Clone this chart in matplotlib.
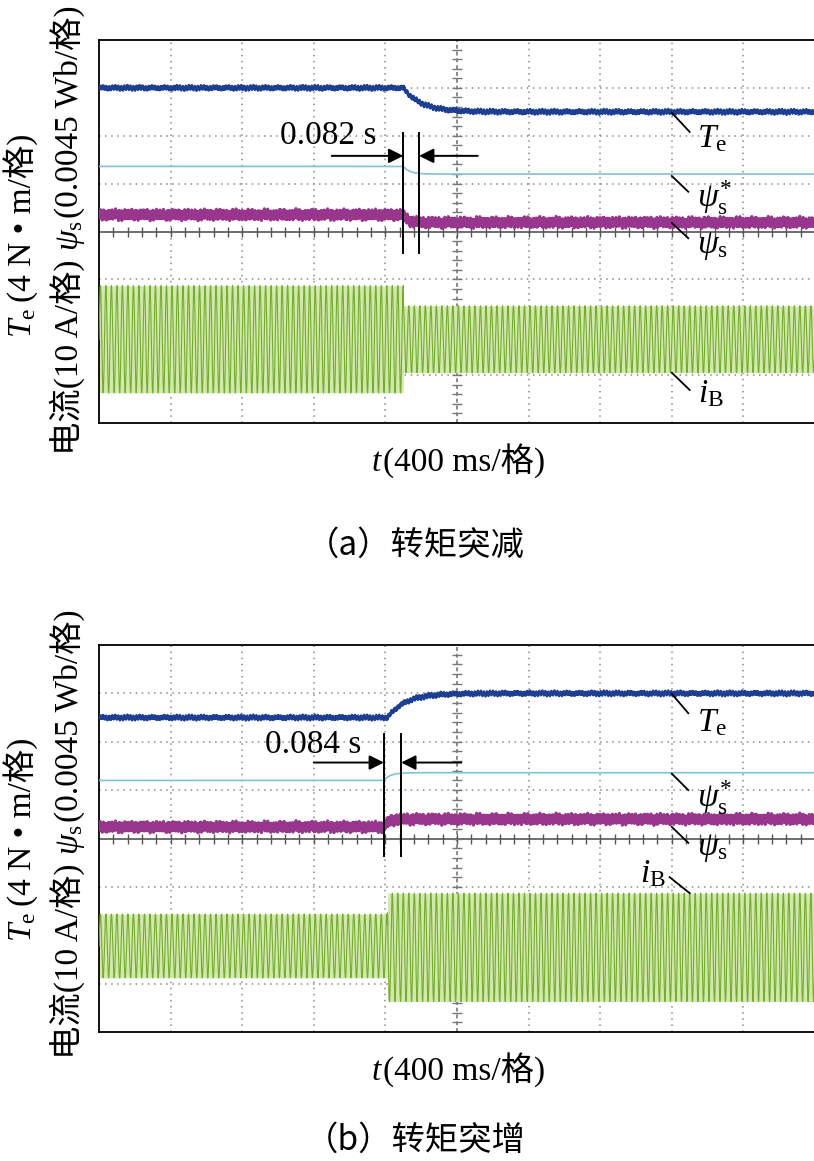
import numpy as np
import matplotlib
matplotlib.use('Agg')
import matplotlib.pyplot as plt

plt.rcParams['mathtext.fontset'] = 'custom'
plt.rcParams['mathtext.rm'] = 'Liberation Serif'
plt.rcParams['mathtext.it'] = 'Liberation Serif:italic'
plt.rcParams['mathtext.bf'] = 'Liberation Serif:bold'
plt.rcParams['font.family'] = ['Liberation Serif', 'Noto Sans CJK SC']
SERIF = ['Liberation Serif', 'Noto Sans CJK SC']

W, H = 814, 1161
FS = 24

# ---------------- data read from the two oscilloscope screens ----------------
# x in divisions (0..10, 400 ms/div), y in divisions (0..8)
# panel (a): torque step down
a_t_step = [4.25, 4.25, 4.25, 4.25]          # Te, psi*, psi, iB change instants
a_Te = [7.00, 6.50]
a_psi_ref = [5.36, 5.20]
a_psi = [4.35, 4.19]
a_iB_amp = [1.12, 0.70]
a_iB_mid = [1.75, 1.75]
a_cursor = [4.25, 4.47]
a_delay = '0.082 s'
# panel (b): torque step up
b_t_step = [4.03, 3.98, 3.98, 4.03]
b_Te = [6.50, 7.00]
b_psi_ref = [5.20, 5.36]
b_psi = [4.24, 4.40]
b_iB_amp = [0.66, 1.12]
b_iB_mid = [1.78, 1.75]
b_cursor = [3.98, 4.22]
b_delay = '0.084 s'

# response time constants (divisions) for Te, psi*, psi
tau = [0.25, 0.09, 0.06]
iB_cycles_per_div = 13.0
Te_ripple = 0.028
psi_ripple = 0.055

C_TE = '#1d3f92'
C_PREF = '#82c0dc'
C_PSI = '#98358c'
C_IB = '#74ad2a'
C_IB_LIGHT = '#d3e8b0'

fig = plt.figure(figsize=(W / 100, H / 100), dpi=100)


def px_axes(top, bot, left=99, right=815):
    return fig.add_axes([left / W, 1 - bot / H, (right - left) / W, (bot - top) / H])


def step_exp(t, t0, v, tc):
    out = np.full_like(t, v[0], dtype=float)
    m = t >= t0
    out[m] = v[1] + (v[0] - v[1]) * np.exp(-(t[m] - t0) / tc)
    return out


def setup(ax):
    ax.set_xlim(0, 10)
    ax.set_ylim(0, 8)
    ax.set_xticks([])
    ax.set_yticks([])
    for s in ax.spines.values():
        s.set_linewidth(1.3)
        s.set_color('black')
    grid = dict(color='#8a8a8a', lw=1.1, ls=(0, (1, 3)), zorder=1)
    for x in range(1, 10):
        if x != 5:
            ax.axvline(x, **grid)
    for y in range(1, 8):
        if y != 4:
            ax.axhline(y, **grid)
    ax.axvline(5, color='#8a8a8a', lw=1.4, ls=(0, (2, 1.5)), zorder=1)
    ax.axhline(4, color='#555555', lw=1.2, zorder=1)
    ht = np.arange(0.2, 10, 0.2)
    ax.plot(ht, np.full_like(ht, 4.0), ls='none', marker='|', ms=7, mew=1.0,
            color='#555555', zorder=1)
    vt = np.arange(0.2, 8, 0.2)
    ax.plot(np.full_like(vt, 5.0), vt, ls='none', marker='_', ms=7, mew=1.0,
            color='#777777', zorder=1)


def traces(ax, tstep, Te, pref, psi, amp, mid):
    t = np.linspace(0, 10, 12001)
    te = step_exp(t, tstep[0], Te, tau[0]) + Te_ripple * np.sin(2 * np.pi * 23.3 * t) \
        + 0.7 * Te_ripple * np.sin(2 * np.pi * 71.1 * t) \
        + 0.4 * Te_ripple * np.sin(2 * np.pi * 5.7 * t)
    pr = step_exp(t, tstep[1], pref, tau[1])
    ps = step_exp(t, tstep[2], psi, tau[2]) + psi_ripple * np.sin(2 * np.pi * 83.7 * t) \
        + 0.7 * psi_ripple * np.sin(2 * np.pi * 61.1 * t + 1.3) \
        + 0.4 * psi_ripple * np.sin(2 * np.pi * 17.9 * t) \
        + 0.3 * psi_ripple * np.sin(2 * np.pi * 131.3 * t)
    ti = np.linspace(0, 10, 30001)
    a = np.where(ti < tstep[3], amp[0], amp[1])
    m = np.where(ti < tstep[3], mid[0], mid[1])
    ax.fill_between(ti, m - a, m + a, color=C_IB_LIGHT, lw=0, zorder=2)
    ax.plot(ti, m + a * np.sin(2 * np.pi * iB_cycles_per_div * ti), color=C_IB, lw=0.8, zorder=3)
    ax.plot(t, ps, color=C_PSI, lw=2.2, zorder=4)
    ax.plot(t, pr, color=C_PREF, lw=1.2, zorder=4)
    ax.plot(t, te, color=C_TE, lw=1.9, zorder=5)


def cursor_marks(ax, cur, y0, y1, ya, xl, xr, delay, txy):
    for c in cur:
        ax.plot([c, c], [y0, y1], color='black', lw=1.4, zorder=6)
    ap = dict(arrowstyle='-|>', color='black', lw=1.4, mutation_scale=22, shrinkA=0, shrinkB=0)
    ax.annotate('', xy=(cur[0], ya), xytext=(xl, ya), arrowprops=ap, zorder=6)
    ax.annotate('', xy=(cur[1], ya), xytext=(xr, ya), arrowprops=ap, zorder=6)
    ax.text(txy[0], txy[1], delay, fontsize=FS, family=SERIF, ha='left', va='baseline', zorder=6)


def labels(ax, items):
    for txt, (x0, y0, x1, y1), (tx, ty) in items:
        ax.plot([x0, x1], [y0, y1], color='black', lw=1.3, zorder=6)
        ax.text(tx, ty, txt, fontsize=FS, ha='left', va='baseline', zorder=6)


def measure(pieces, size):
    r = fig.canvas.get_renderer()
    widths = []
    for s in pieces:
        tt = fig.text(0, 0, s, fontsize=size, family=SERIF)
        widths.append(tt.get_window_extent(r).width)
        tt.remove()
    return widths


def rotated_label(pieces, gaps, x_base_px, y_center_px, size=FS):
    widths = measure(pieces, size)
    total = sum(widths) + sum(gaps)
    y = (H - y_center_px) - total / 2
    for s, w, g in zip(pieces, widths, gaps + [0]):
        fig.text(x_base_px / W, y / H, s, fontsize=size, family=SERIF, rotation=90,
                 rotation_mode='anchor', ha='left', va='baseline')
        y += w + g


def horiz_label(pieces, x_center_px, y_base_px, size=FS):
    widths = measure(pieces, size)
    x = x_center_px - sum(widths) / 2
    for s, w in zip(pieces, widths):
        fig.text(x / W, 1 - y_base_px / H, s, fontsize=size, family=SERIF,
                 ha='left', va='baseline')
        x += w


TE_L = r'$T_\mathrm{e}$'
PREF_L = r'$\psi_\mathrm{s}^{*}$'
PSI_L = r'$\psi_\mathrm{s}$'
IB_L = r'$i_\mathrm{B}$'
YL1 = [TE_L, '(4 N • m/格)']
YL2 = ['电流(10 A/格)', PSI_L, '(0.0045 Wb/格)']
XL = [r'$t$', '(400 ms/格)']

# ---------------- panel (a) ----------------
axA = px_axes(40, 423)
setup(axA)
traces(axA, a_t_step, a_Te, a_psi_ref, a_psi, a_iB_amp, a_iB_mid)
cursor_marks(axA, a_cursor, 6.06, 3.55, 5.58, 3.25, 5.29, a_delay, (2.53, 5.83))
labels(axA, [
    (TE_L, (8.00, 6.48, 8.25, 6.08), (8.35, 5.77)),
    (PREF_L, (8.00, 5.16, 8.23, 4.83), (8.35, 4.51)),
    (PSI_L, (8.00, 4.18, 8.23, 3.86), (8.35, 3.55)),
    (IB_L, (8.00, 1.05, 8.25, 0.69), (8.37, 0.44)),
])

# ---------------- panel (b) ----------------
axB = px_axes(645, 1032)
setup(axB)
traces(axB, b_t_step, b_Te, b_psi_ref, b_psi, b_iB_amp, b_iB_mid)
cursor_marks(axB, b_cursor, 6.16, 3.64, 5.57, 3.00, 5.06, b_delay, (2.32, 5.77))
labels(axB, [
    (TE_L, (8.00, 6.99, 8.23, 6.59), (8.35, 6.21)),
    (PREF_L, (8.00, 5.34, 8.23, 5.00), (8.35, 4.65)),
    (PSI_L, (8.00, 4.24, 8.23, 3.91), (8.35, 3.66)),
    (IB_L, (7.97, 3.20, 8.25, 2.87), (7.56, 3.10)),
])

# ---------------- axis titles and captions ----------------
for yc in (236, 840):
    rotated_label(YL1, [6], 31, yc)
    rotated_label(YL2, [8, 2], 78, yc - 6)
horiz_label(XL, 458, 471)
horiz_label(XL, 458, 1080)
fig.text(415 / W, 1 - 545 / H, '（a）转矩突减', family=['Noto Sans CJK SC'], fontsize=FS,
         ha='center', va='center')
fig.text(415 / W, 1 - 1140 / H, '（b）转矩突增', family=['Noto Sans CJK SC'], fontsize=FS,
         ha='center', va='center')

fig.savefig('out.png', dpi=100)
